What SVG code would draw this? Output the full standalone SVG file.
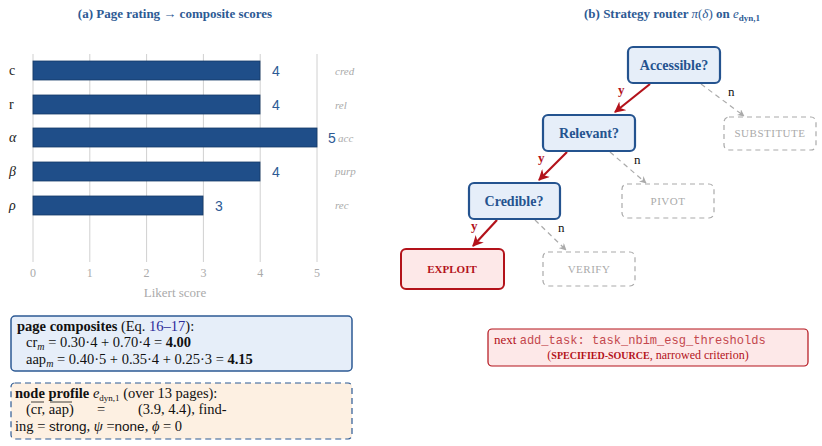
<svg xmlns="http://www.w3.org/2000/svg" width="822" height="446" viewBox="0 0 822 446">
<style>
text{font-family:"Liberation Serif","Times New Roman",serif}
.t{font-size:13px;font-weight:bold;fill:#2d5a94}
.grid{stroke:#d0d0d0;stroke-width:1}
.bar{fill:#1f4e89;stroke:#163b68;stroke-width:0.8}
.val{font-size:14px;fill:#2d5a94;font-family:"Liberation Sans",sans-serif}
.lab{font-size:14px;fill:#222}
.side{font-size:11px;font-style:italic;fill:#aaa}
.tick{font-size:12px;fill:#aaa}
.q rect{fill:#e6eef9;stroke:#24538f;stroke-width:2.2}
.q text{font-size:14px;font-weight:bold;fill:#24538f;text-anchor:middle}
.g rect{fill:none;stroke:#aaa;stroke-width:1.2;stroke-dasharray:5,4}
.g text{font-size:11px;fill:#aaa;text-anchor:middle;letter-spacing:0.5px}
.y{stroke:#b3121a;stroke-width:2.2;fill:none}
.n{stroke:#aaa;stroke-width:1.2;stroke-dasharray:5,4;fill:none}
.yl{font-size:13px;font-weight:bold;fill:#b3121a}
.nl{font-size:13px;fill:#111}
.m{font-family:"Liberation Mono","Courier New",monospace}
.bx{font-size:14.5px;fill:#111}
</style>
<defs>
<marker id="ar" viewBox="0 0 10 10" refX="9" refY="5" markerWidth="5" markerHeight="5" orient="auto"><path d="M0,0 L10,5 L0,10 L3,5 z" fill="#b3121a"/></marker>
<marker id="ag" viewBox="0 0 10 10" refX="9" refY="5" markerWidth="6" markerHeight="6" orient="auto"><path d="M0,0 L10,5 L0,10 L3,5 z" fill="#aaa"/></marker>
</defs>
<text class="t" x="175" y="18" text-anchor="middle">(a) Page rating → composite scores</text>
<g id="chart">
<line class="grid" x1="33" y1="54" x2="33" y2="262"/>
<line class="grid" x1="89.8" y1="54" x2="89.8" y2="262"/>
<line class="grid" x1="146.6" y1="54" x2="146.6" y2="262"/>
<line class="grid" x1="203.4" y1="54" x2="203.4" y2="262"/>
<line class="grid" x1="260.2" y1="54" x2="260.2" y2="262"/>
<line class="grid" x1="317" y1="54" x2="317" y2="262"/>
<rect class="bar" x="33" y="61" width="227" height="19"/>
<rect class="bar" x="33" y="95" width="227" height="19"/>
<rect class="bar" x="33" y="128" width="284" height="19"/>
<rect class="bar" x="33" y="162" width="227" height="19"/>
<rect class="bar" x="33" y="196" width="170" height="19"/>
<text class="lab" x="9" y="75">c</text>
<text class="lab" x="9" y="109">r</text>
<text class="lab" x="9" y="142" font-style="italic">α</text>
<text class="lab" x="9" y="176" font-style="italic">β</text>
<text class="lab" x="9" y="210" font-style="italic">ρ</text>
<text class="val" x="272" y="76">4</text>
<text class="val" x="272" y="110">4</text>
<text class="val" x="328" y="143">5</text>
<text class="val" x="272" y="177">4</text>
<text class="val" x="215" y="211">3</text>
<text class="side" x="335" y="75">cred</text>
<text class="side" x="335" y="109">rel</text>
<text class="side" x="338" y="142">acc</text>
<text class="side" x="335" y="175">purp</text>
<text class="side" x="335" y="209">rec</text>
<g class="tick" text-anchor="middle">
<text x="33" y="277">0</text><text x="89.8" y="277">1</text><text x="146.6" y="277">2</text><text x="203.4" y="277">3</text><text x="260.2" y="277">4</text><text x="317" y="277">5</text>
</g>
<text x="175" y="297" text-anchor="middle" font-size="13" fill="#aaa">Likert score</text>
</g>
<g id="composites">
<rect x="11" y="316" width="341" height="55" rx="4" fill="#e6eef9" stroke="#2d5a94" stroke-width="1.5"/>
<text class="bx" x="17" y="331"><tspan font-weight="bold">page composites</tspan> (Eq. <tspan fill="#2a2a9a">16–17</tspan>):</text>
<text class="bx" x="26" y="347">cr<tspan font-style="italic" font-size="10" dy="3">m</tspan><tspan dy="-3"> = 0.30·4 + 0.70·4 = </tspan><tspan font-weight="bold">4.00</tspan></text>
<text class="bx" x="26" y="364">aap<tspan font-style="italic" font-size="10" dy="3">m</tspan><tspan dy="-3"> = 0.40·5 + 0.35·4 + 0.25·3 = </tspan><tspan font-weight="bold">4.15</tspan></text>
</g>
<g id="profile">
<rect x="11" y="383" width="341" height="56" rx="4" fill="#fdf0e2" stroke="#2d5a94" stroke-width="1.2" stroke-dasharray="6,4"/>
<text class="bx" x="15" y="398"><tspan font-weight="bold">node profile</tspan> <tspan font-style="italic">e</tspan><tspan font-size="9" dy="3">dyn,1</tspan><tspan dy="-3"> (over 13 pages):</tspan></text>
<text class="bx" x="26" y="414">(cr, aap)</text>
<line x1="31" y1="402" x2="44" y2="402" stroke="#111" stroke-width="0.8"/>
<line x1="50" y1="402" x2="72" y2="402" stroke="#111" stroke-width="0.8"/>
<text class="bx" x="97" y="414">=</text>
<text class="bx" x="138" y="414">(3.9, 4.4), find-</text>
<text class="bx" x="15" y="431">ing = <tspan font-family="Liberation Sans,sans-serif" font-size="13.5">strong</tspan>, <tspan font-style="italic">ψ</tspan> =<tspan font-family="Liberation Sans,sans-serif" font-size="13.5">none</tspan>, <tspan font-style="italic">ϕ</tspan> = 0</text>
</g>
<text class="t" x="672" y="18" text-anchor="middle">(b) Strategy router <tspan font-style="italic" font-weight="normal">π</tspan><tspan font-weight="normal">(</tspan><tspan font-style="italic" font-weight="normal">δ</tspan><tspan font-weight="normal">)</tspan> on <tspan font-style="italic" font-weight="normal">e</tspan><tspan font-size="9" dy="3">dyn,1</tspan></text>
<g id="connectors">
<line class="y" x1="650" y1="84" x2="615" y2="112" marker-end="url(#ar)"/>
<line class="y" x1="567" y1="152" x2="539" y2="180" marker-end="url(#ar)"/>
<line class="y" x1="497" y1="220" x2="473" y2="246" marker-end="url(#ar)"/>
<line class="n" x1="701" y1="84" x2="744" y2="116" marker-end="url(#ag)"/>
<line class="n" x1="610" y1="152" x2="646" y2="183" marker-end="url(#ag)"/>
<line class="n" x1="535" y1="220" x2="566" y2="250" marker-end="url(#ag)"/>
<text class="yl" x="618" y="94">y</text>
<text class="yl" x="538" y="162">y</text>
<text class="yl" x="471" y="230">y</text>
<text class="nl" x="728" y="96">n</text>
<text class="nl" x="634" y="164">n</text>
<text class="nl" x="558" y="232">n</text>
</g>
<g id="accessible" class="q"><rect x="628" y="47" width="92" height="36" rx="5"/><text x="674" y="70">Accessible?</text></g>
<g id="relevant" class="q"><rect x="543" y="115" width="92" height="36" rx="5"/><text x="589" y="138">Relevant?</text></g>
<g id="credible" class="q"><rect x="469" y="183" width="91" height="36" rx="5"/><text x="514" y="206">Credible?</text></g>
<g id="exploit"><rect x="401" y="249" width="103" height="40" rx="5" fill="#fde8e8" stroke="#b3121a" stroke-width="2"/><text x="452" y="273" text-anchor="middle" font-size="11" font-weight="bold" fill="#b3121a">EXPLOIT</text></g>
<g id="substitute" class="g"><rect x="724" y="117" width="92" height="33" rx="5"/><text x="770" y="137">SUBSTITUTE</text></g>
<g id="pivot" class="g"><rect x="622" y="184" width="92" height="34" rx="5"/><text x="668" y="205">PIVOT</text></g>
<g id="verify" class="g"><rect x="543" y="252" width="92" height="34" rx="5"/><text x="589" y="273">VERIFY</text></g>
<g id="next">
<rect x="488" y="329" width="320" height="37" rx="4" fill="#fde8e8" stroke="#b3121a" stroke-width="1.2"/>
<text x="494" y="344" font-size="13" fill="#b3121a">next <tspan class="m" font-size="13.5" fill="#c4474d" textLength="246" lengthAdjust="spacingAndGlyphs">add_task: task_nbim_esg_thresholds</tspan></text>
<text x="648" y="359" text-anchor="middle" font-size="12" fill="#b3121a">(<tspan font-size="10" font-weight="bold">SPECIFIED-SOURCE</tspan>, narrowed criterion)</text>
</g>
</svg>
